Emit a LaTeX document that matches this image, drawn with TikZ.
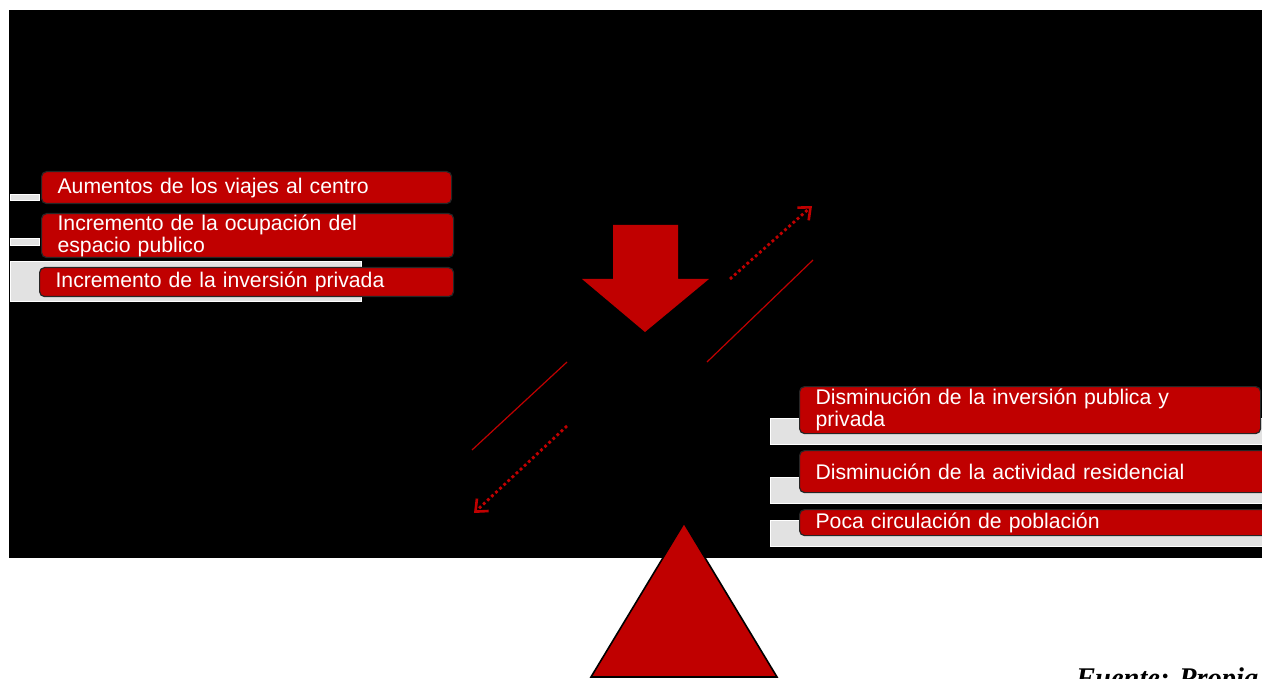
\documentclass[tikz,border=0pt]{standalone}
\usepackage{fontspec}
\setmainfont{Liberation Sans}
\newfontfamily\fuentefont{Liberation Serif}
\usetikzlibrary{arrows.meta}
\definecolor{dred}{HTML}{C00000}
\definecolor{lgray}{HTML}{E2E2E2}
\tikzset{
  redbox/.style={fill=dred, draw=black!85, line width=1.2pt, rounded corners=5pt,
    text=white, font=\fontsize{21.2}{22}\selectfont, align=left, anchor=north west,
    inner xsep=16pt, inner ysep=0pt},
  graybar/.style={fill=lgray, draw=white, line width=1pt},
  thinline/.style={draw=dred, line width=1.2pt},
  dotline/.style={draw=dred, line width=2.8pt, dash pattern=on 2.8pt off 2.8pt,
    -{Straight Barb[length=10pt,width=17pt,line width=2.6pt]}},
}
\begin{document}
\begin{tikzpicture}[x=1pt,y=-1pt]
\clip (0,0) rectangle (1262,679);
\fill[white] (0,0) rectangle (1262,679);
\fill[black] (9,10) rectangle (1262,558);

% left gray bars
\draw[graybar] (10,195) rectangle (39,201);
\draw[graybar] (10,239) rectangle (39,246);
\draw[graybar] (10,262) rectangle (361,302);

% left red boxes
\node[redbox, text width=378pt, minimum height=32pt] (l1) at (41,171) {Aumentos de los viajes al centro};
\node[redbox, text width=380pt, minimum height=44pt] (l2) at (41,213) {Incremento de la ocupación del\\espacio publico};
\node[redbox, text width=382pt, minimum height=29pt] (l3) at (39,267) {Incremento de la inversión privada};

% right gray bars
\draw[graybar] (770,418) rectangle (1266,444);
\draw[graybar] (770,477) rectangle (1266,503);
\draw[graybar] (770,520) rectangle (1266,546);

% right red boxes
\node[redbox, text width=429pt, minimum height=47pt] (r1) at (799,386) {Disminución de la inversión publica y\\privada};
\node[redbox, text width=440pt, minimum height=42pt] (r2) at (799,450) {Disminución de la actividad residencial};
\node[redbox, text width=440pt, minimum height=26pt] (r3) at (799,509) {Poca circulación de población};

% big down arrow
\fill[dred] (613,225) -- (678,225) -- (678,279) -- (709,279) -- (645,332) -- (582,279) -- (613,279) -- cycle;

% diagonal lines
\coordinate (ts) at (730,279);
\coordinate (te) at (812,206);
\coordinate (ls1) at (707,362);
\coordinate (le1) at (813,260);
\coordinate (ls2) at (567,362);
\coordinate (le2) at (472,450);
\coordinate (bs) at (567,426);
\coordinate (be) at (474,513);
\draw[dotline] (ts) -- (te);
\draw[thinline] (ls1) -- (le1);
\draw[thinline] (ls2) -- (le2);
\draw[dotline] (bs) -- (be);

% triangle
\draw[fill=dred, draw=black, line width=1.6pt, line join=miter] (684,523) -- (777,677) -- (591,677) -- cycle;

% source
\node[anchor=base west, inner sep=0pt, font=\fuentefont\bfseries\itshape\fontsize{28.5}{30}\selectfont] (src) at (1076,687) {Fuente: Propia};
\end{tikzpicture}
\end{document}
